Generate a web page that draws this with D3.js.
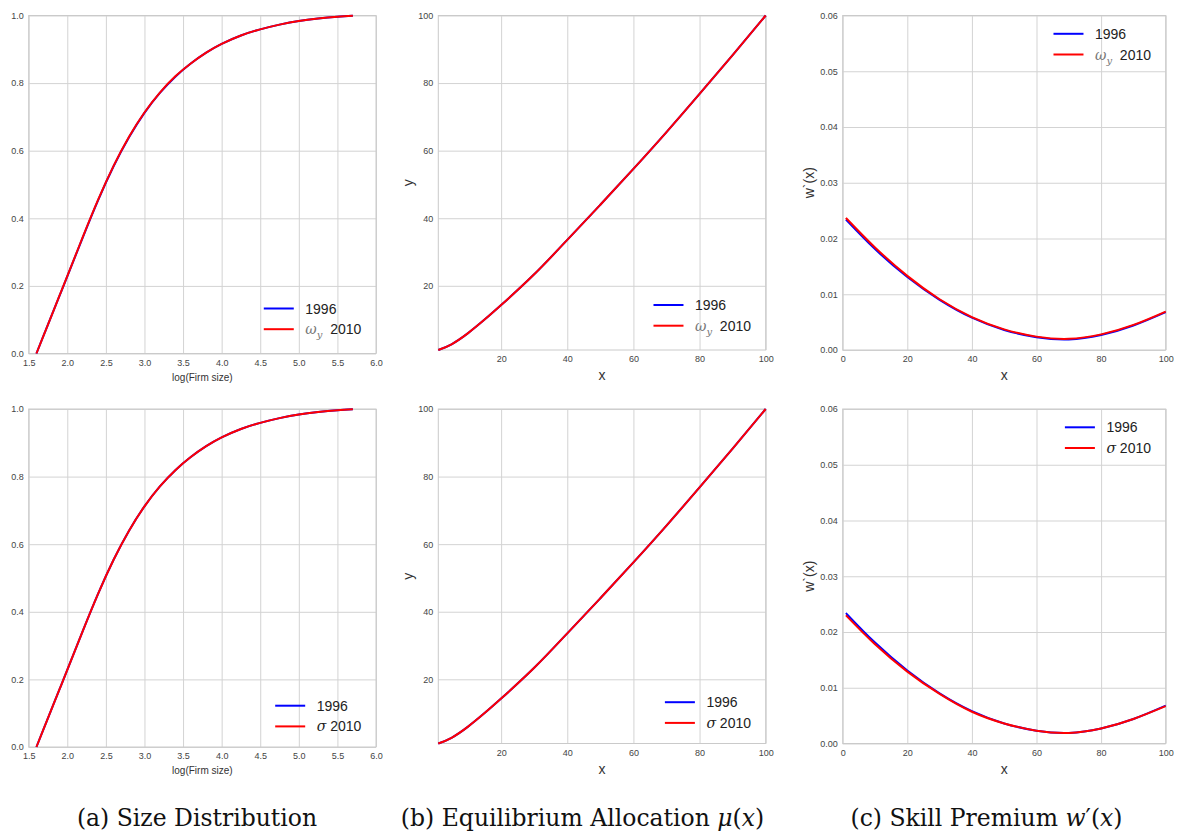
<!DOCTYPE html>
<html>
<head>
<meta charset="utf-8">
<script src="https://cdn.jsdelivr.net/npm/d3@7.9.0/dist/d3.min.js"></script>
<style>
  body { margin: 0; background: #fff; }
  svg { display: block; font-family: "Liberation Sans", Arial, sans-serif; }
  .tick text { fill: #444; font-size: 9px; }
  .tick line { stroke: #d3d3d3; stroke-width: 1; }
  .caption { font-family: "DejaVu Serif", "Liberation Serif", serif; font-size: 23.5px; fill: #111; }
</style>
</head>
<body>
<svg id="chart" width="1177" height="831"></svg>
<script>
// ---- values ----

// (a) size distribution, cdf over log(firm size)
const firmSize = [1.6, 1.7, 1.8, 1.9, 2.0, 2.2, 2.4, 2.6, 2.8, 3.0, 3.2, 3.4, 3.6, 3.8, 4.0, 4.25, 4.5, 4.75, 5.0, 5.25, 5.5, 5.7];
const sizeCdf1996 = [0, 0.057, 0.114, 0.171, 0.228, 0.343, 0.454, 0.554, 0.64, 0.712, 0.771, 0.819, 0.858, 0.89, 0.916, 0.941, 0.959, 0.973, 0.984, 0.991, 0.996, 0.999];
const sizeCdfOmega2010 = [0, 0.057, 0.114, 0.172, 0.229, 0.344, 0.455, 0.555, 0.641, 0.713, 0.772, 0.82, 0.858, 0.89, 0.916, 0.941, 0.959, 0.973, 0.984, 0.991, 0.996, 0.999];
const sizeCdfSigma2010 = [0, 0.057, 0.114, 0.171, 0.228, 0.343, 0.454, 0.554, 0.64, 0.712, 0.771, 0.819, 0.858, 0.89, 0.916, 0.941, 0.959, 0.973, 0.984, 0.991, 0.996, 0.999];

// (b) equilibrium allocation mu(x)
const skillX = [1, 5, 10, 15, 20, 30, 40, 50, 60, 70, 80, 90, 100];
const alloc1996 = [1, 2.7, 6.0, 10.0, 14.3, 23.4, 33.6, 44.0, 54.6, 65.5, 76.8, 88.3, 100];
const allocOmega2010 = [1, 2.7, 6.0, 10.0, 14.3, 23.4, 33.6, 44.0, 54.6, 65.5, 76.8, 88.3, 100];
const allocSigma2010 = [1, 2.7, 6.0, 10.0, 14.3, 23.4, 33.6, 44.0, 54.6, 65.5, 76.8, 88.3, 100];

// (c) skill premium w'(x)
const premiumX = [1, 10, 20, 30, 40, 50, 60, 70, 80, 90, 100];
const premium1996 = [0.0234, 0.0181, 0.0131, 0.0090, 0.0058, 0.0036, 0.0023, 0.0019, 0.0027, 0.0044, 0.0068];
const premiumOmega2010 = [0.0237, 0.0184, 0.0133, 0.0091, 0.0059, 0.0037, 0.0024, 0.0020, 0.0028, 0.0045, 0.0069];
const premiumSigma2010 = [0.0230, 0.0178, 0.0129, 0.0089, 0.0057, 0.0036, 0.0023, 0.0019, 0.0027, 0.0044, 0.0067];

// ticks
const sizeTicks = [1.5, 2.0, 2.5, 3.0, 3.5, 4.0, 4.5, 5.0, 5.5, 6.0];
const cdfTicks = [0, 0.2, 0.4, 0.6, 0.8, 1.0];
const allocTicks = [20, 40, 60, 80, 100];
const premiumXTicks = [0, 20, 40, 60, 80, 100];
const premiumYTicks = [0, 0.01, 0.02, 0.03, 0.04, 0.05, 0.06];

const svg = d3.select('#chart');

// layout of the 3x2 grid
const cols = {
  a: { left: 28.7, right: 376, bottom: 353.5 },
  b: { left: 438.3, right: 765.7, bottom: 350 },
  c: { left: 842.7, right: 1165.7, bottom: 350 }
};
const rowShift = [0, 393.5];
const top0 = 15.5;

const panels = [
  { col: 'a', row: 0, xs: firmSize, s1: sizeCdf1996, s2: sizeCdfOmega2010, tag: 'omega',
    xDomain: [1.5, 6], yDomain: [0, 1], xTicks: sizeTicks, yTicks: cdfTicks, xFmt: d3.format('.1f'), yFmt: d3.format('.1f'),
    xLabel: 'log(Firm size)', smallX: true, legend: 'lower' },
  { col: 'b', row: 0, xs: skillX, s1: alloc1996, s2: allocOmega2010, tag: 'omega',
    xDomain: [1, 100], yDomain: [1, 100], xTicks: allocTicks, yTicks: allocTicks, xFmt: d3.format('d'), yFmt: d3.format('d'),
    xLabel: 'x', yLabel: 'y', legend: 'lower' },
  { col: 'c', row: 0, xs: premiumX, s1: premium1996, s2: premiumOmega2010, tag: 'omega',
    xDomain: [0, 100], yDomain: [0, 0.06], xTicks: premiumXTicks, yTicks: premiumYTicks, xFmt: d3.format('d'), yFmt: d3.format('.2f'),
    xLabel: 'x', yLabel: 'w`(x)', legend: 'upper' },
  { col: 'a', row: 1, xs: firmSize, s1: sizeCdf1996, s2: sizeCdfSigma2010, tag: 'sigma',
    xDomain: [1.5, 6], yDomain: [0, 1], xTicks: sizeTicks, yTicks: cdfTicks, xFmt: d3.format('.1f'), yFmt: d3.format('.1f'),
    xLabel: 'log(Firm size)', smallX: true, legend: 'lower' },
  { col: 'b', row: 1, xs: skillX, s1: alloc1996, s2: allocSigma2010, tag: 'sigma',
    xDomain: [1, 100], yDomain: [1, 100], xTicks: allocTicks, yTicks: allocTicks, xFmt: d3.format('d'), yFmt: d3.format('d'),
    xLabel: 'x', yLabel: 'y', legend: 'lower' },
  { col: 'c', row: 1, xs: premiumX, s1: premium1996, s2: premiumSigma2010, tag: 'sigma',
    xDomain: [0, 100], yDomain: [0, 0.06], xTicks: premiumXTicks, yTicks: premiumYTicks, xFmt: d3.format('d'), yFmt: d3.format('.2f'),
    xLabel: 'x', yLabel: 'w`(x)', legend: 'upper' }
];

panels.forEach(p => {
  const c = cols[p.col];
  const top = top0 + rowShift[p.row];
  const bottom = c.bottom + rowShift[p.row];
  const x = d3.scaleLinear().domain(p.xDomain).range([c.left, c.right]);
  const y = d3.scaleLinear().domain(p.yDomain).range([bottom, top]);
  const g = svg.append('g');

  // grid + tick labels
  g.append('g')
    .attr('transform', `translate(0,${bottom})`)
    .call(d3.axisBottom(x).tickValues(p.xTicks).tickSize(-(bottom - top)).tickPadding(6).tickFormat(p.xFmt))
    .call(a => a.select('.domain').remove());
  g.append('g')
    .attr('transform', `translate(${c.left},0)`)
    .call(d3.axisLeft(y).tickValues(p.yTicks).tickSize(-(c.right - c.left)).tickPadding(5).tickFormat(p.yFmt))
    .call(a => a.select('.domain').remove());

  g.append('rect')
    .attr('x', c.left).attr('y', top)
    .attr('width', c.right - c.left).attr('height', bottom - top)
    .attr('fill', 'none').attr('stroke', '#cacaca').attr('stroke-width', 1);

  // curves
  const line = d3.line()
    .x((d, i) => x(p.xs[i]))
    .y(d => y(d))
    .curve(d3.curveNatural);
  g.append('path').attr('d', line(p.s1)).attr('fill', 'none').attr('stroke', '#0000ff').attr('stroke-width', 2);
  g.append('path').attr('d', line(p.s2)).attr('fill', 'none').attr('stroke', '#ff0000').attr('stroke-width', 2);

  // axis labels
  const midX = (c.left + c.right) / 2;
  if (p.smallX) {
    g.append('text').attr('x', midX).attr('y', bottom + 27).attr('text-anchor', 'middle')
      .attr('font-size', 10).attr('fill', '#333').text(p.xLabel);
  } else {
    g.append('text').attr('x', midX).attr('y', bottom + 30).attr('text-anchor', 'middle')
      .attr('font-size', 14).attr('fill', '#333').text(p.xLabel);
  }
  if (p.yLabel) {
    const lx = p.col === 'b' ? c.left - 25 : c.left - 29;
    const ly = (top + bottom) / 2;
    g.append('text').attr('transform', `translate(${lx},${ly}) rotate(-90)`)
      .attr('text-anchor', 'middle').attr('font-size', 14).attr('fill', '#333').text(p.yLabel);
  }

  // legend
  const leg = g.append('g');
  const rowsY = [0, 20.7];
  [['#0000ff', '1996'], ['#ff0000', p.tag]].forEach(([col, lab], i) => {
    leg.append('line').attr('x1', 0).attr('x2', 30).attr('y1', rowsY[i]).attr('y2', rowsY[i])
      .attr('stroke', col).attr('stroke-width', 2);
    const t = leg.append('text').attr('x', 41.5).attr('y', rowsY[i]).attr('dy', '0.36em')
      .attr('font-size', 14).attr('fill', '#222');
    if (lab === 'omega') {
      t.append('tspan').attr('font-family', '"DejaVu Serif", serif').attr('font-style', 'italic').attr('fill', '#777').text('ω');
      t.append('tspan').attr('font-family', '"DejaVu Serif", serif').attr('font-style', 'italic').attr('fill', '#777')
        .attr('font-size', 10).attr('dy', 4).text('y');
      t.append('tspan').attr('dy', -4).text('\u00a0\u00a02010');
    } else if (lab === 'sigma') {
      t.append('tspan').attr('font-family', '"DejaVu Serif", serif').attr('font-style', 'italic').text('σ');
      t.append('tspan').text(' 2010');
    } else {
      t.text(lab);
    }
  });
  const bb = leg.node().getBBox();
  const lx = c.right - 14.5 - (bb.x + bb.width);
  let ly;
  if (p.legend === 'upper') ly = top + 18.3;
  else ly = bottom - (p.tag === 'omega' ? 45 : 41.3);
  leg.attr('transform', `translate(${lx},${ly})`);
});

// captions under each column
const captions = [
  { cx: 197, parts: [['(a) Size Distribution', false]] },
  { cx: 582.5, parts: [['(b) Equilibrium Allocation ', false], ['μ', true], ['(', false], ['x', true], [')', false]] },
  { cx: 986.5, parts: [['(c) Skill Premium ', false], ['w', true], ['′(', false], ['x', true], [')', false]] }
];
captions.forEach(cap => {
  const t = svg.append('text').attr('class', 'caption').attr('x', cap.cx).attr('y', 826).attr('text-anchor', 'middle');
  cap.parts.forEach(([s, it]) => {
    t.append('tspan').attr('font-style', it ? 'italic' : 'normal').text(s);
  });
});
</script>
</body>
</html>
